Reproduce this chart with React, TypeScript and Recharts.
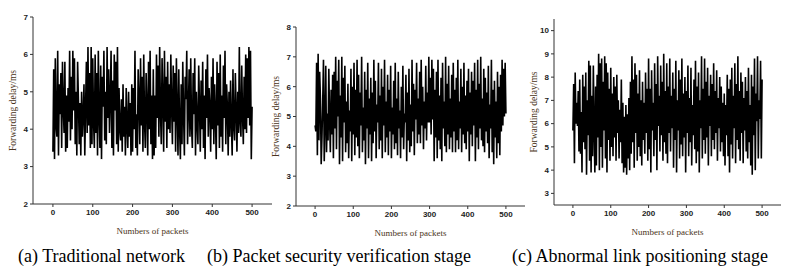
import { LineChart, Line, XAxis, YAxis } from "recharts";

// forwarding delay (ms), read every 2 packets from the figure
const delayA = [
  3.4, 5.6, 3.2, 5.9, 4.1, 3.8, 6.1, 3.3, 5.2, 4.4, 5.5, 3.5, 5.8, 4.6, 3.9, 5.8, 3.4, 4.9, 3.5, 5.1, 4.2, 6.1, 3.7, 5.4, 4.0,
  6.1, 4.5, 5.9, 3.6, 5.0, 3.3, 5.8, 4.8, 3.6, 4.7, 3.3, 5.0, 3.8, 4.4, 5.2, 3.3, 4.6, 5.8, 3.9, 6.2, 4.1, 5.5, 3.5, 6.2, 3.6,
  5.9, 4.2, 3.5, 6.0, 3.9, 5.5, 3.3, 6.1, 4.4, 3.5, 5.7, 3.2, 5.4, 4.6, 6.1, 3.7, 5.0, 3.6, 6.2, 4.3, 5.6, 3.9, 4.8, 6.1, 3.5,
  5.3, 3.3, 6.0, 4.5, 5.8, 3.6, 6.2, 3.4, 5.1, 4.0, 3.7, 4.8, 3.4, 5.2, 3.8, 4.6, 3.3, 5.1, 4.1, 3.5, 5.0, 3.8, 4.7, 3.3, 5.2,
  3.4, 5.1, 4.0, 6.1, 3.5, 4.4, 3.3, 5.6, 4.8, 3.6, 5.9, 4.1, 5.4, 3.4, 6.0, 4.2, 3.5, 5.5, 4.6, 3.3, 5.8, 4.0, 6.1, 3.6, 4.9,
  3.2, 5.6, 3.3, 4.9, 3.5, 6.0, 4.3, 5.7, 3.8, 6.2, 4.5, 3.6, 5.9, 4.8, 3.4, 6.1, 4.2, 5.4, 3.5, 5.8, 4.0, 5.2, 3.9, 6.0, 4.6,
  3.6, 5.7, 4.2, 5.5, 3.4, 5.9, 4.5, 3.3, 5.6, 4.0, 3.2, 5.2, 3.6, 5.8, 4.4, 3.3, 5.4, 4.8, 6.1, 3.6, 4.5, 5.6, 3.8, 5.9, 4.1,
  3.5, 5.5, 4.4, 5.9, 3.3, 5.0, 4.2, 3.6, 5.7, 4.6, 3.4, 5.3, 4.0, 5.8, 3.5, 4.9, 3.2, 5.6, 4.3, 6.0, 3.8, 5.1, 4.6, 3.4, 5.4,
  4.0, 5.9, 3.6, 5.2, 4.4, 3.2, 5.8, 4.1, 5.5, 3.5, 6.0, 3.8, 4.9, 3.4, 5.7, 4.3, 6.1, 3.6, 5.2, 4.6, 3.3, 5.0, 3.8, 5.3, 4.2,
  3.3, 5.6, 4.1, 3.7, 5.5, 4.5, 3.4, 5.0, 3.9, 6.2, 4.2, 3.8, 5.7, 4.4, 3.6, 5.4, 4.0, 6.0, 3.9, 5.9, 4.3, 6.2, 4.1, 6.1, 3.2,
  4.6,
];

const delayB = [
  4.7, 4.5, 6.8, 3.7, 7.1, 4.2, 6.5, 5.6, 3.4, 4.3, 5.5, 6.9, 3.5, 4.8, 6.7, 3.8, 5.1, 4.2, 6.6, 4.9, 3.8, 5.9, 4.4, 6.4, 3.6,
  6.5, 4.6, 7.0, 3.9, 6.2, 5.0, 6.9, 3.4, 5.7, 4.3, 7.0, 3.5, 6.3, 4.8, 6.7, 3.8, 5.5, 4.1, 6.1, 3.6, 5.2, 4.5, 6.6, 3.5, 6.0,
  4.4, 6.8, 3.7, 5.9, 4.3, 6.9, 4.0, 6.4, 3.6, 5.8, 4.7, 7.0, 3.8, 5.3, 4.2, 6.5, 3.4, 5.9, 4.6, 6.8, 3.6, 5.6, 4.4, 6.3, 3.5,
  5.8, 4.1, 6.9, 4.5, 6.2, 3.6, 5.4, 4.8, 6.8, 3.9, 5.7, 4.2, 6.6, 3.6, 6.0, 4.7, 6.9, 3.8, 5.5, 4.3, 6.4, 3.7, 5.9, 4.5, 6.7,
  3.6, 5.3, 4.4, 6.2, 3.9, 6.8, 4.1, 5.6, 3.7, 6.5, 4.6, 5.2, 3.6, 6.0, 4.3, 6.7, 3.9, 5.1, 4.8, 6.4, 3.5, 5.8, 4.2, 6.6, 3.8,
  5.4, 4.0, 6.9, 4.5, 6.1, 3.7, 5.9, 4.9, 6.8, 4.1, 5.6, 4.4, 6.5, 4.1, 6.9, 4.7, 6.0, 3.9, 5.5, 4.6, 6.7, 4.2, 5.8, 4.8, 7.0,
  4.8, 6.3, 4.4, 6.9, 4.9, 6.6, 3.5, 5.9, 4.3, 6.5, 3.6, 6.9, 4.2, 5.7, 3.9, 6.3, 3.5, 6.8, 4.6, 5.5, 4.0, 7.0, 3.8, 6.1, 4.4,
  6.7, 3.9, 5.6, 4.3, 6.4, 3.8, 6.8, 4.5, 5.9, 3.8, 6.3, 4.2, 6.9, 3.9, 5.5, 4.6, 6.6, 3.8, 6.0, 4.4, 6.8, 4.1, 5.7, 3.9, 6.2,
  4.5, 6.6, 3.5, 5.8, 4.4, 6.5, 4.0, 6.2, 4.7, 6.8, 3.5, 5.9, 4.3, 6.9, 3.9, 6.1, 4.6, 7.0, 4.2, 5.6, 4.0, 6.6, 3.8, 6.3, 4.5,
  5.8, 4.1, 6.7, 3.6, 5.4, 4.6, 6.9, 3.8, 5.9, 3.4, 6.2, 4.3, 5.5, 3.6, 6.5, 4.1, 6.0, 3.7, 6.4, 4.5, 6.9, 4.7, 6.6, 5.0, 6.8,
  5.1,
];

const delayC = [
  5.7, 7.7, 4.3, 8.2, 6.0, 6.9, 5.9, 7.4, 4.8, 7.9, 4.7, 6.5, 3.9, 8.1, 5.2, 7.6, 4.9, 8.2, 3.8, 7.0, 5.5, 8.7, 4.4, 8.5, 3.9,
  7.2, 4.6, 8.5, 5.8, 3.9, 7.6, 4.2, 8.1, 5.4, 9.0, 4.0, 8.6, 5.0, 8.8, 4.1, 7.8, 5.7, 8.9, 4.5, 8.6, 3.9, 8.2, 5.3, 7.5, 4.4,
  8.4, 5.0, 7.3, 4.6, 8.0, 5.4, 7.6, 4.4, 8.1, 5.6, 7.0, 4.5, 6.6, 5.2, 7.9, 4.3, 6.9, 3.9, 6.3, 4.1, 6.8, 3.8, 6.4, 4.5, 7.1,
  4.0, 7.8, 4.7, 8.9, 5.2, 7.9, 4.1, 8.6, 5.6, 8.1, 4.4, 7.3, 5.0, 8.3, 4.6, 7.0, 4.2, 7.8, 5.3, 6.9, 4.7, 8.2, 5.6, 7.5, 4.4,
  8.8, 4.9, 7.5, 3.9, 8.3, 5.7, 6.9, 4.6, 8.6, 5.3, 7.7, 4.0, 8.9, 5.9, 7.2, 4.8, 8.5, 5.5, 7.8, 4.4, 9.0, 5.2, 7.4, 4.7, 8.6,
  4.3, 7.6, 5.6, 8.8, 4.8, 7.2, 5.8, 8.2, 4.1, 7.5, 5.3, 8.7, 3.9, 7.0, 5.7, 8.3, 4.5, 7.9, 5.1, 8.8, 4.6, 7.3, 5.4, 8.0, 3.9,
  7.4, 5.6, 8.5, 4.6, 7.1, 5.2, 8.4, 4.2, 6.8, 5.5, 7.9, 4.9, 8.7, 4.3, 7.6, 4.8, 8.2, 3.9, 7.0, 5.8, 8.9, 4.5, 7.5, 5.3, 8.8,
  4.7, 7.8, 5.4, 8.4, 4.2, 7.2, 5.9, 8.1, 4.6, 7.7, 5.3, 8.6, 4.9, 7.4, 5.6, 8.3, 4.4, 7.1, 5.8, 8.0, 4.8, 7.6, 5.2, 6.9, 4.6,
  7.3, 4.2, 6.8, 5.5, 8.1, 4.6, 7.5, 3.9, 7.9, 5.1, 8.4, 4.5, 7.2, 5.8, 8.6, 4.3, 7.7, 5.3, 8.9, 4.9, 7.4, 4.4, 8.2, 5.6, 7.8,
  4.3, 7.1, 5.7, 8.0, 4.8, 7.4, 4.5, 8.4, 5.2, 6.8, 4.2, 8.1, 3.8, 7.6, 5.5, 8.8, 4.0, 7.3, 6.1, 8.9, 4.5, 7.0, 6.2, 8.7, 4.5,
  7.9,
];

const packets = delayA.map((_, i) => i * 2);
const xTicks = [0, 100, 200, 300, 400, 500];
const yTicksA = [2, 3, 4, 5, 6, 7];
const yTicksB = [2, 3, 4, 5, 6, 7, 8];
const yTicksC = [3, 4, 5, 6, 7, 8, 9, 10];

const captions = [
  "(a) Traditional network",
  "(b) Packet security verification stage",
  "(c) Abnormal link positioning stage",
];

const serif = "'Liberation Serif', 'Times New Roman', Times, serif";
const labelColor = "#4a3420";
const axisColor = "#333";
const tickStyle = { fill: "#222", fontSize: 8, fontWeight: 700, fontFamily: "'Liberation Sans', Arial, sans-serif" };

interface PanelProps {
  values: number[];
  yDomain: [number, number];
  yTicks: number[];
  left: number;
  top: number;
  width: number;
  plotBottom: number;
}

function Panel({ values, yDomain, yTicks, left, top, width, plotBottom }: PanelProps) {
  const data = packets.map((p, i) => ({ packet: p, delay: values[i] }));
  const height = plotBottom + 34;
  return (
    <div style={{ position: "absolute", left, top: 0 }}>
      <LineChart
        width={width}
        height={height}
        data={data}
        margin={{ top, right: 4, bottom: 0, left: 0 }}
      >
        <XAxis
          dataKey="packet"
          type="number"
          domain={[-50, 550]}
          ticks={xTicks}
          height={34}
          tick={tickStyle}
          tickSize={3}
          axisLine={{ stroke: axisColor }}
          tickLine={{ stroke: axisColor }}
          label={{
            value: "Numbers of packets",
            position: "insideBottom",
            offset: 4,
            style: { fill: labelColor, fontSize: 9, fontFamily: serif },
          }}
        />
        <YAxis
          domain={yDomain}
          ticks={yTicks}
          width={32}
          tick={tickStyle}
          tickSize={3}
          axisLine={{ stroke: axisColor }}
          tickLine={{ stroke: axisColor }}
          label={{
            value: "Forwarding delay/ms",
            angle: -90,
            position: "insideLeft",
            offset: 12,
            style: { fill: labelColor, fontSize: 9.5, fontFamily: serif, textAnchor: "middle" },
          }}
        />
        <Line
          type="linear"
          dataKey="delay"
          stroke="#000"
          strokeWidth={1.6}
          dot={false}
          isAnimationActive={false}
        />
      </LineChart>
    </div>
  );
}

export default function App() {
  return (
    <div
      style={{
        position: "absolute",
        left: 0,
        top: 0,
        width: 795,
        height: 275,
        background: "#fff",
        overflow: "hidden",
      }}
    >
      <Panel values={delayA} yDomain={[2, 7]} yTicks={yTicksA} left={1} top={17} width={275} plotBottom={204} />
      <Panel values={delayB} yDomain={[2, 8]} yTicks={yTicksB} left={264} top={27} width={265} plotBottom={206} />
      <Panel values={delayC} yDomain={[2.5, 10.5]} yTicks={yTicksC} left={522} top={19} width={263} plotBottom={205} />
      {[
        { text: captions[0], left: 18 },
        { text: captions[1], left: 207 },
        { text: captions[2], left: 512 },
      ].map((c) => (
        <div
          key={c.text}
          style={{
            position: "absolute",
            left: c.left,
            top: 245,
            fontFamily: serif,
            fontSize: 18,
            lineHeight: "22px",
            color: "#000",
            whiteSpace: "nowrap",
          }}
        >
          {c.text}
        </div>
      ))}
    </div>
  );
}
